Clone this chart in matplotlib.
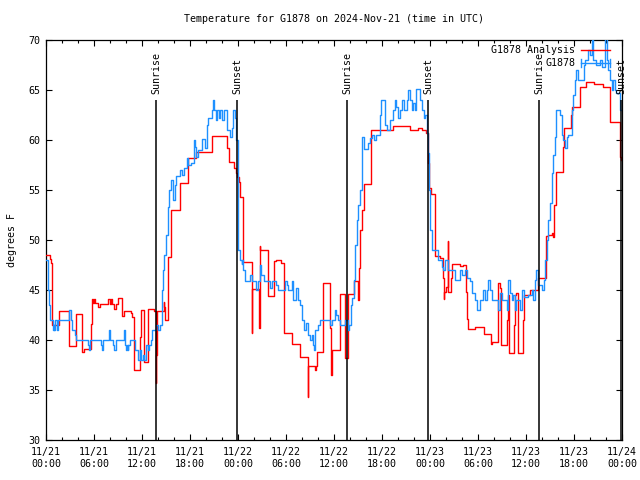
import matplotlib
matplotlib.use("Agg")
import matplotlib.pyplot as plt
from matplotlib.lines import Line2D

# ---------------- data ----------------
red_hours = [0.0, 0.5, 0.6, 0.7, 1.67, 2.9, 3.7, 4.5, 4.8, 5.6, 5.75, 5.9, 6.0, 6.1, 6.5, 6.75,
             7.7, 8.0, 8.1, 8.3, 8.5, 8.8, 9.0, 9.5, 9.8, 10.6, 10.8, 11.0, 11.7, 11.85, 12.3,
             12.7, 12.8, 13.5, 13.75, 13.8, 13.9, 14.7, 14.8, 14.9, 15.2, 15.6, 16.7, 17.7,
             18.8, 20.7, 22.6, 22.9, 23.5, 23.7, 23.9, 24.1, 24.25, 24.6, 25.7, 25.75, 26.6,
             26.7, 26.8, 27.7, 27.8, 28.5, 28.7, 29.4, 29.7, 30.7, 31.7, 32.7, 32.8, 33.6,
             33.8, 33.9, 34.6, 35.5, 35.6, 35.7, 36.7, 37.4, 37.7, 38.5, 39.0, 39.1, 39.3,
             39.5, 39.7, 40.6, 43.4, 45.5, 46.5, 47.0, 47.5, 47.8, 47.9, 48.1, 48.6, 49.2,
             49.6, 49.7, 49.75, 50.0, 50.2, 50.3, 50.6, 50.7, 51.7, 52.1, 52.5, 52.6, 52.8,
             53.6, 54.7, 55.6, 55.7, 56.5, 56.7, 56.9, 57.6, 57.7, 57.9, 58.5, 58.6, 58.8,
             59.0, 59.6, 59.7, 60.5, 61.1, 61.5, 62.5, 62.7, 63.2, 63.4, 63.5, 63.8, 64.6,
             64.75, 65.6, 65.7, 66.7, 67.5, 68.5, 69.6, 70.5, 71.7, 71.9]
red_temps = [48.5, 48.1, 47.7, 41.5, 42.9, 39.4, 42.6, 38.8, 39.1, 41.6, 44.1, 43.7, 44.1, 43.7, 43.3, 43.6,
             44.1, 43.6, 44.1, 43.6, 43.1, 43.6, 44.2, 42.4, 42.9, 42.7, 42.3, 37.0, 40.3, 43.0, 37.8,
             40.3, 43.1, 42.9, 35.7, 38.5, 42.9, 43.8, 43.3, 42.0, 48.3, 53.0, 55.7, 58.2,
             58.8, 60.4, 59.2, 57.8, 57.2, 56.7, 56.3, 55.8, 54.3, 47.8, 40.7, 45.1, 41.2,
             49.4, 49.0, 44.5, 44.4, 47.9, 48.0, 47.7, 40.7, 39.6, 38.3, 34.3, 37.4, 37.0,
             37.4, 38.8, 45.7, 41.2, 36.5, 39.0, 44.6, 38.2, 44.6, 45.9, 44.0, 47.2, 51.0,
             53.0, 55.6, 61.0, 61.4, 61.0, 61.2, 61.0, 60.7, 57.7, 55.2, 54.6, 48.4, 48.2,
             46.2, 44.1, 44.8, 45.3, 49.9, 44.8, 46.2, 47.6, 47.4, 47.5, 44.8, 42.1, 41.1,
             41.3, 40.6, 39.6, 39.8, 45.7, 45.2, 39.5, 42.0, 44.5, 38.7, 41.5, 44.5, 44.7,
             38.7, 42.0, 44.5, 45.0, 45.0, 46.2, 50.4, 50.5, 50.7, 50.3, 53.5, 56.8, 59.3,
             61.2, 62.5, 63.3, 65.3, 65.8, 65.6, 65.3, 61.8, 58.3, 58.0]

blue_hours = [0.0, 0.2, 0.35, 0.5, 0.85, 0.95, 1.05, 1.15, 1.4, 1.5, 2.9, 3.1, 3.3, 3.6, 3.8,
              5.3, 5.4, 5.5, 6.9, 7.0, 7.1, 7.9, 8.0, 8.4, 8.5, 8.8, 9.7, 9.9, 10.0, 10.1, 10.2,
              10.3, 10.5, 11.1, 11.5, 11.7, 11.9, 12.1, 12.3, 12.5, 12.7, 12.9, 13.1, 13.3, 13.8,
              14.0, 14.2, 14.5, 14.6, 14.75, 15.0, 15.2, 15.3, 15.4, 15.6, 15.9, 16.1, 16.3,
              16.7, 17.0, 17.3, 17.6, 17.8, 18.1, 18.5, 18.6, 18.8, 19.0, 19.5, 19.9, 20.1,
              20.3, 20.7, 20.9, 21.0, 21.2, 21.4, 21.6, 21.8, 22.0, 22.2, 22.6, 23.0, 23.2,
              23.4, 23.6, 23.8, 23.97, 24.05, 24.25, 24.45, 24.55, 24.67, 24.9, 25.5, 25.7,
              26.3, 26.5, 26.75, 26.85, 27.2, 28.0, 28.2, 28.8, 29.0, 29.9, 30.1, 30.3, 30.7,
              30.9, 31.3, 31.5, 31.75, 32.0, 32.2, 32.5, 32.8, 33.0, 33.2, 33.4, 33.5, 33.6,
              34.0, 34.25, 35.5, 35.7, 36.1, 36.3, 36.5, 36.75, 37.4, 37.7, 37.9, 38.1, 38.3,
              38.5, 38.6, 38.9, 39.0, 39.25, 39.45, 39.7, 40.3, 40.5, 40.7, 41.0, 41.3, 41.75,
              41.9, 42.4, 42.6, 43.0, 43.4, 43.6, 43.8, 44.0, 44.25, 44.45, 44.7, 45.1, 45.3,
              45.5, 45.7, 45.9, 46.1, 46.3, 46.75, 47.0, 47.2, 47.4, 47.6, 47.75, 47.85, 48.0,
              48.2, 48.3, 49.0, 49.45, 49.65, 49.9, 50.2, 51.1, 51.75, 52.0, 52.4, 52.6, 53.0,
              53.3, 53.6, 53.9, 54.2, 54.6, 54.9, 55.1, 55.3, 55.5, 55.7, 56.5, 56.75, 57.0,
              57.6, 57.8, 58.0, 58.2, 58.4, 58.6, 58.8, 59.25, 59.5, 59.7, 60.3, 60.7, 60.9,
              61.1, 61.3, 61.5, 62.0, 62.2, 62.4, 62.6, 62.8, 62.95, 63.2, 63.4, 63.6, 63.8,
              64.25, 64.45, 64.65, 64.9, 65.1, 65.3, 65.7, 65.9, 66.1, 66.3, 66.5, 67.2, 67.4,
              67.8, 68.0, 68.2, 68.4, 68.8, 69.25, 69.5, 69.9, 70.1, 70.3, 70.5, 70.7, 70.9,
              71.1, 71.3, 71.7, 71.9]
blue_temps = [48.0, 45.0, 43.5, 42.0, 41.0, 41.5, 41.0, 42.0, 41.0, 42.0, 43.0, 42.0, 41.0, 40.5, 40.0,
              39.5, 39.0, 40.0, 39.5, 39.0, 40.0, 41.0, 40.0, 39.5, 39.0, 40.0, 41.0, 39.5, 39.0, 39.5, 39.0,
              39.5, 40.0, 39.0, 38.0, 39.0, 38.0, 38.5, 38.0, 39.5, 39.0, 39.5, 40.0, 41.0, 41.5,
              41.0, 41.5, 45.0, 47.0, 48.5, 50.5, 52.0, 53.3, 55.0, 56.0, 54.0, 55.5, 56.4,
              57.0, 56.5, 57.2, 58.2, 57.5, 57.7, 60.0, 59.3, 58.3, 59.0, 60.1, 59.2, 61.5,
              62.2, 63.0, 64.0, 63.0, 62.0, 63.0, 62.2, 63.0, 62.0, 63.0, 61.0, 60.3, 61.2,
              63.0, 62.2, 60.0, 52.0, 49.0, 48.0, 47.6, 48.0, 47.0, 45.9, 46.5, 45.9,
              45.0, 45.9, 47.5, 46.5, 45.9, 45.2, 45.9, 45.5, 45.0, 45.9, 45.5, 45.0, 45.9,
              44.0, 45.2, 44.0, 43.5, 42.0, 41.0, 41.7, 40.5, 40.0, 40.5, 39.5, 39.0, 41.0,
              41.5, 42.0, 41.5, 42.0, 43.0, 42.5, 42.0, 41.5, 42.0, 41.0, 41.5, 43.5, 44.2,
              46.0, 49.5, 52.0, 53.5, 55.0, 60.3, 59.1, 59.7, 60.2, 60.5, 60.0, 60.5, 62.5,
              64.0, 61.5, 61.0, 62.0, 63.0, 64.0, 63.3, 62.2, 63.0, 64.0, 63.0, 64.0, 65.0,
              64.0, 63.0, 63.7, 63.0, 65.1, 64.0, 63.0, 62.2, 62.5, 60.7, 58.7, 55.0, 51.0,
              49.5, 49.0, 48.0, 47.3, 47.0, 48.0, 47.0, 46.0, 47.0, 46.5, 47.0, 46.2, 45.9,
              44.7, 44.0, 43.0, 44.0, 45.0, 44.0, 45.0, 46.0, 45.0, 44.0, 43.0, 44.7, 44.0,
              43.0, 46.0, 44.7, 44.0, 44.5, 43.0, 44.0, 43.0, 45.0, 44.3, 44.5, 45.0, 44.0,
              46.0, 47.0, 45.5, 45.0, 46.0, 48.0, 50.0, 52.0, 53.7, 56.7, 58.5, 60.3, 63.0,
              62.5, 60.5, 60.0, 59.2, 60.3, 60.5, 63.0, 64.5, 66.0, 67.0, 66.0, 67.5, 68.0,
              69.0, 68.5, 70.5, 68.0, 67.5, 68.0, 67.3, 70.2, 68.0, 67.0, 66.0, 65.0, 66.0,
              65.0, 64.7, 63.0, 63.0]

sunrise_hours = [13.77, 37.68, 61.66]
sunset_hours = [23.92, 47.8, 71.88]

xtick_hours = [0, 6, 12, 18, 24, 30, 36, 42, 48, 54, 60, 66, 72]
xtick_labels = ["11/21\n00:00", "11/21\n06:00", "11/21\n12:00", "11/21\n18:00",
                "11/22\n00:00", "11/22\n06:00", "11/22\n12:00", "11/22\n18:00",
                "11/23\n00:00", "11/23\n06:00", "11/23\n12:00", "11/23\n18:00",
                "11/24\n00:00"]
ytick_values = [30, 35, 40, 45, 50, 55, 60, 65, 70]

title = "Temperature for G1878 on 2024-Nov-21 (time in UTC)"
series_names = ["G1878 Analysis", "G1878"]

# ---------------- style ----------------
FONT = "DejaVu Sans Mono"
FS = 7.2
RED = "#ff0000"
BLUE = "#1e90ff"
W, H = 640, 480

plt.rcParams["font.family"] = FONT
plt.rcParams["font.size"] = FS

fig = plt.figure(figsize=(6.4, 4.8), dpi=100)
ax = fig.add_axes([46 / W, 1 - 440 / H, (622 - 46) / W, 400 / H])

ax.plot(red_hours, red_temps, drawstyle="steps-post", color=RED, lw=1.0, zorder=3)
ax.plot(blue_hours, blue_temps, drawstyle="steps-post", color=BLUE, lw=1.0, zorder=4)

ax.vlines(sunrise_hours + sunset_hours, 30, 64, color="black", lw=1.1, zorder=5)
for h in sunrise_hours:
    ax.text(h, 64.6, "Sunrise", rotation=90, ha="center", va="bottom", fontsize=FS, zorder=6)
for h in sunset_hours:
    ax.text(h, 64.6, "Sunset", rotation=90, ha="center", va="bottom", fontsize=FS, zorder=6)

ax.set_xlim(0, 72)
ax.set_ylim(30, 70)
ax.set_xticks(xtick_hours)
ax.set_xticklabels(xtick_labels)
ax.set_xticks(range(0, 73, 2), minor=True)
ax.set_yticks(ytick_values)
ax.set_yticklabels([str(v) for v in ytick_values])

ax.tick_params(axis="both", which="major", direction="in", length=4.5, width=0.8,
               top=True, right=True, labelsize=FS)
ax.tick_params(axis="x", which="minor", direction="in", length=2.5, width=0.8,
               top=True, bottom=True)
ax.tick_params(axis="x", which="major", pad=5)
ax.tick_params(axis="y", which="major", pad=4)
for s in ax.spines.values():
    s.set_linewidth(0.9)

ax.set_title(title, fontsize=FS, pad=13)
fig.text(12 / W, 1 - 240 / H, "degrees F", rotation=90, ha="center", va="center", fontsize=FS)

# key (top right, inside plot)
def fx(px):
    return px / W

def fy(py):
    return 1 - py / H

fig.text(fx(575), fy(50), series_names[0], ha="right", va="center", fontsize=FS, zorder=10)
fig.text(fx(575), fy(63), series_names[1], ha="right", va="center", fontsize=FS, zorder=10)
fig.add_artist(Line2D([fx(581), fx(610)], [fy(50), fy(50)], color=RED, lw=1.0))
fig.add_artist(Line2D([fx(581), fx(610)], [fy(63), fy(63)], color=BLUE, lw=1.0))
for px in (581, 610):
    fig.add_artist(Line2D([fx(px), fx(px)], [fy(59), fy(67)], color=BLUE, lw=1.0))

fig.savefig("out.png", dpi=100)
